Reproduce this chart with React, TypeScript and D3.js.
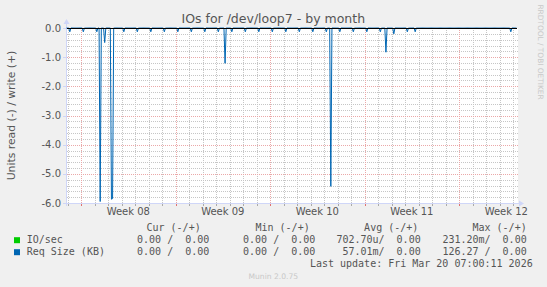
import React from "react";
import * as d3 from "d3";

// ---- data ----
const yMajorTicks = [0, -1, -2, -3, -4, -5, -6];
const yTickLabels = ["0.0", "-1.0", "-2.0", "-3.0", "-4.0", "-5.0", "-6.0"];
const weekStarts = ["2026-02-16", "2026-02-23", "2026-03-02", "2026-03-09", "2026-03-16"];
const weekLabels = ["Week 08", "Week 09", "Week 10", "Week 11", "Week 12"];

// Req Size (read, drawn negative) non-zero samples (2h RRD step), UTC
const readTimes = [
  "2026-02-15T04:00Z", "2026-02-16T04:00Z", "2026-02-17T04:00Z", "2026-02-17T10:00Z",
  "2026-02-17T18:00Z", "2026-02-18T06:00Z", "2026-02-18T08:00Z", "2026-02-19T04:00Z",
  "2026-02-20T04:00Z", "2026-02-21T04:00Z", "2026-02-22T04:00Z", "2026-02-23T04:00Z",
  "2026-02-24T04:00Z", "2026-02-25T04:00Z", "2026-02-26T04:00Z", "2026-02-26T16:00Z",
  "2026-02-27T04:00Z", "2026-02-28T04:00Z", "2026-03-01T04:00Z", "2026-03-02T04:00Z",
  "2026-03-03T04:00Z", "2026-03-04T04:00Z", "2026-03-05T04:00Z", "2026-03-06T04:00Z",
  "2026-03-06T12:00Z", "2026-03-07T04:00Z", "2026-03-08T04:00Z", "2026-03-09T04:00Z",
  "2026-03-10T04:00Z", "2026-03-10T14:00Z", "2026-03-11T04:00Z", "2026-03-12T04:00Z",
  "2026-03-12T18:00Z", "2026-03-19T20:00Z",
];
const readValues = [
  -0.13, -0.13, -0.13, -5.95,
  -0.5, -5.87, -5.85, -0.13,
  -0.13, -0.13, -0.13, -0.13,
  -0.13, -0.13, -0.13, -1.21,
  -0.13, -0.13, -0.13, -0.13,
  -0.13, -0.13, -0.13, -0.13,
  -5.43, -0.13, -0.13, -0.13,
  -0.13, -0.83, -0.2, -0.13,
  -0.13, -0.13,
];

const legendSeries = ["IO/sec", "Req Size (KB)"];
const legendColors = ["#00cc00", "#0066b3"];
const legendCur = ["0.00 /  0.00", "0.00 /  0.00"];
const legendMin = ["0.00 /  0.00", "0.00 /  0.00"];
const legendAvg = ["702.70u/  0.00", "57.01m/  0.00"];
const legendMax = ["231.20m/  0.00", "126.27 /  0.00"];

const START = new Date(Date.UTC(2026, 1, 14, 23, 0));
const END = new Date(Date.UTC(2026, 2, 20, 7, 0));

export default function App() {
  const L = 67, R = 517, T = 28, B = 203;
  const x = d3.scaleUtc().domain([START, END]).range([L, R]);
  const y = d3.scaleLinear().domain([-6, 0]).range([B, T]);
  const px = (v: number) => Math.round(v) + 0.5;

  // dense series at 2h RRD step: unlisted samples are zero
  const lookup = new Map<number, number>();
  readTimes.forEach((t, i) => lookup.set(new Date(t).getTime(), readValues[i]));
  const steps = d3.utcHour.every(2)!.range(new Date(Date.UTC(2026, 1, 14, 22)), END);
  const pts: [Date, number][] = steps.map((d) => [d, lookup.get(d.getTime()) ?? 0]);
  const line = d3
    .line<[Date, number]>()
    .x((d) => x(d[0]))
    .y((d) => y(d[1]))(pts) as string;

  const days = d3.utcDay.range(d3.utcDay.ceil(START), END);
  const mondays = weekStarts.map((s) => new Date(s + "T00:00:00Z"));
  const mondaySet = new Set(mondays.map((d) => d.getTime()));
  const minorY = d3.range(-6, 0.001, 0.2).map((v) => Math.round(v * 10) / 10).filter((v) => Math.abs(v - Math.round(v)) > 1e-6);

  const gridMinor = "#c6c6c6";
  const gridMajor = "#eba8a8";
  const axisC = "#CFD6F8";
  const font = "DejaVu Sans, sans-serif";
  const mono = "DejaVu Sans Mono, monospace";
  const textC = "#555";

  return (
    <svg width={547} height={287} style={{ position: "absolute", left: 0, top: 0, background: "#f0f0f0" }}>
      <rect x={0} y={0} width={547} height={287} fill="#f0f0f0" />
      <rect x={L} y={T} width={R - L + 1} height={B - T + 1} fill="#ffffff" />
      {/* minor grid */}
      {minorY.map((v) => (
        <line key={"my" + v} x1={L} x2={R + 1} y1={px(y(v))} y2={px(y(v))} stroke={gridMinor} strokeDasharray="1 1" />
      ))}
      {days.filter((d) => !mondaySet.has(d.getTime())).map((d) => (
        <line key={"mx" + d.getTime()} x1={px(x(d))} x2={px(x(d))} y1={T} y2={B} stroke={gridMinor} strokeDasharray="1 1" />
      ))}
      {/* major grid */}
      {yMajorTicks.filter((v) => v !== 0 && v !== -6).map((v) => (
        <line key={"My" + v} x1={L} x2={R + 1} y1={px(y(v))} y2={px(y(v))} stroke={gridMajor} strokeDasharray="1 1" />
      ))}
      {mondays.map((d) => (
        <line key={"Mx" + d.getTime()} x1={px(x(d))} x2={px(x(d))} y1={T} y2={B} stroke={gridMajor} strokeDasharray="1 1" />
      ))}
      {/* axes */}
      <line x1={L - 3} x2={R + 3} y1={px(B)} y2={px(B)} stroke={axisC} />
      <path d={`M${R + 7},${px(B)} L${R + 2},${px(B) - 3} L${R + 2},${px(B) + 3} Z`} fill={axisC} />
      <line x1={px(L - 1)} x2={px(L - 1)} y1={B + 3} y2={T - 4} stroke={axisC} />
      <path d={`M${px(L - 1)},${T - 9} L${px(L - 1) - 3},${T - 4} L${px(L - 1) + 3},${T - 4} Z`} fill={axisC} />
      {/* axis ticks */}
      {days.map((d) => (
        <line key={"tx" + d.getTime()} x1={px(x(d))} x2={px(x(d))} y1={B + 1} y2={B + 3}
          stroke={mondaySet.has(d.getTime()) ? "#e07070" : "#aaaaaa"} />
      ))}
      {yMajorTicks.map((v) => (
        <line key={"ty" + v} x1={L - 4} x2={L - 1} y1={px(y(v))} y2={px(y(v))} stroke={axisC} />
      ))}
      {/* series */}
      <path d={line} fill="none" stroke="#0066b3" strokeWidth={1} />
      {/* zero line */}
      <line x1={L} x2={R} y1={px(y(0))} y2={px(y(0))} stroke="#000" />
      {/* y labels */}
      {yMajorTicks.map((v, i) => (
        <text key={"yl" + v} x={61} y={y(v) + 3.6} textAnchor="end" fontFamily={font} fontSize={10} fill={textC}>
          {yTickLabels[i]}
        </text>
      ))}
      {/* x labels */}
      {mondays.map((d, i) => (
        <text key={"xl" + i} x={x(d3.utcHour.offset(d, 84))} y={215} textAnchor="middle" fontFamily={font} fontSize={10} fill={textC}>
          {weekLabels[i]}
        </text>
      ))}
      {/* title */}
      <text x={273.3} y={23} textAnchor="middle" fontFamily={font} fontSize={12.5} fill={textC}>
        IOs for /dev/loop7 - by month
      </text>
      <text transform={`translate(14.5,115.5) rotate(-90)`} textAnchor="middle" fontFamily={font} fontSize={10.8} fill={textC}>
        Units read (-) / write (+)
      </text>
      <text transform={`translate(538,52) rotate(90)`} textAnchor="middle" fontFamily={font} fontSize={7.4} fill="#c8c8c8">
        RRDTOOL / TOBI OETIKER
      </text>
      {/* legend */}
      <g fontFamily={mono} fontSize={10} fill={textC} style={{ whiteSpace: "pre" }}>
        <text x={200.7} y={230.7} textAnchor="end" xmlSpace="preserve">Cur (-/+)</text>
        <text x={309.7} y={230.7} textAnchor="end" xmlSpace="preserve">Min (-/+)</text>
        <text x={418.3} y={230.7} textAnchor="end" xmlSpace="preserve">Avg (-/+)</text>
        <text x={526.7} y={230.7} textAnchor="end" xmlSpace="preserve">Max (-/+)</text>
        {legendSeries.map((s, i) => {
          const by = 242.7 + i * 12;
          return (
            <g key={s}>
              <rect x={14} y={by - 5.5} width={6} height={6} fill={legendColors[i]} />
              <text x={26.7} y={by} xmlSpace="preserve">{s}</text>
              <text x={209.3} y={by} textAnchor="end" xmlSpace="preserve">{legendCur[i]}</text>
              <text x={315.3} y={by} textAnchor="end" xmlSpace="preserve">{legendMin[i]}</text>
              <text x={420.7} y={by} textAnchor="end" xmlSpace="preserve">{legendAvg[i]}</text>
              <text x={526.7} y={by} textAnchor="end" xmlSpace="preserve">{legendMax[i]}</text>
            </g>
          );
        })}
        <text x={532.7} y={266.7} textAnchor="end" xmlSpace="preserve">Last update: Fri Mar 20 07:00:11 2026</text>
      </g>
      <text x={273.3} y={279} textAnchor="middle" fontFamily={font} fontSize={7.6} fill="#c8c8c8">
        Munin 2.0.75
      </text>
    </svg>
  );
}
